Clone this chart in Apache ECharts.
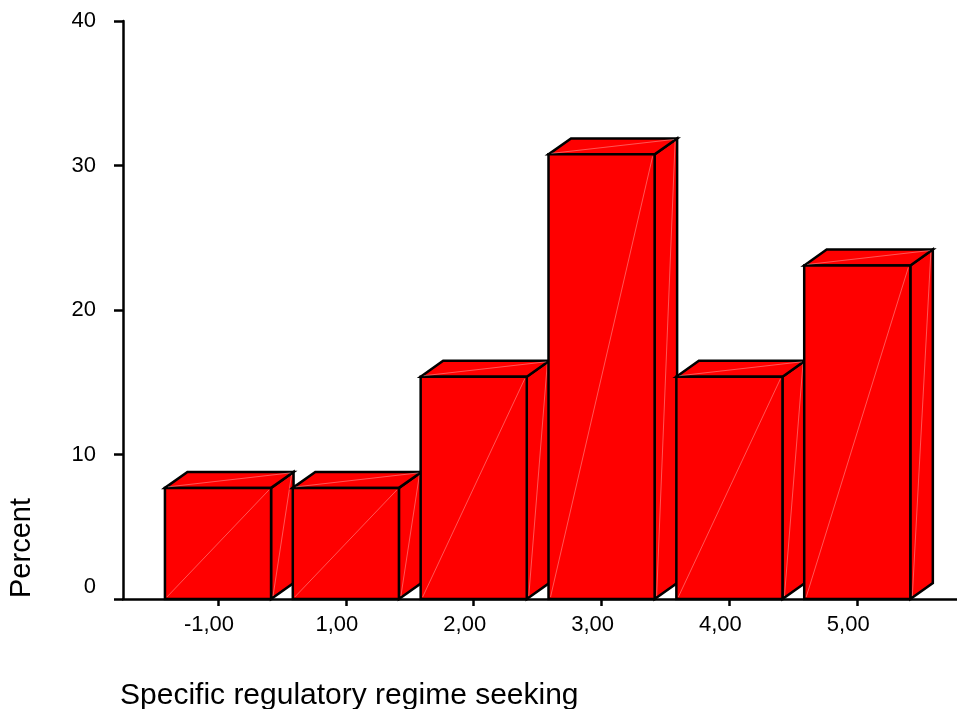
<!DOCTYPE html>
<html><head><meta charset="utf-8">
<script src="https://cdn.jsdelivr.net/npm/echarts@6/dist/echarts.min.js"></script>
<style>html,body{margin:0;padding:0;background:#fff}#c{width:957px;height:709px}</style>
</head><body><div id="c"></div>
<script>
const categories = ['-1,00', '1,00', '2,00', '3,00', '4,00', '5,00'];
const percentValues = [7.69, 7.69, 15.38, 30.77, 15.38, 23.08];
const yTickValues = [0, 10, 20, 30, 40];
const xTitle = 'Specific regulatory regime seeking';
const yTitle = 'Percent';

const FONT = '"Liberation Sans", Arial, sans-serif';
const chart = echarts.init(document.getElementById('c'), null, {renderer: 'canvas'});
const seriesData = percentValues.map((v, i) => [i, v]);
const catIdx = categories.map((c, i) => i);

function renderBar(params, api) {
  const i = api.value(0), v = api.value(1);
  const unit = api.size([1, 1]);
  const halfW = 0.415 * unit[0];
  const dx = 0.176 * unit[0];
  const dy = dx * 0.71;
  const top = api.coord([i, v]);
  const base = api.coord([i, 0]);
  const xl = top[0] - halfW, xr = top[0] + halfW, yt = top[1], yb = base[1];
  const faceStyle = {fill: '#ff0000', stroke: '#000', lineWidth: 2.5, lineJoin: 'miter'};
  const diagStyle = {stroke: 'rgba(255,190,190,0.45)', lineWidth: 1, fill: null};
  return {
    type: 'group',
    children: [
      {type: 'polygon', shape: {points: [[xr, yb], [xr + dx, yb - dy], [xr + dx, yt - dy], [xr, yt]]}, style: faceStyle},
      {type: 'polygon', shape: {points: [[xl, yt], [xl + dx, yt - dy], [xr + dx, yt - dy], [xr, yt]]}, style: faceStyle},
      {type: 'polygon', shape: {points: [[xl, yb], [xr, yb], [xr, yt], [xl, yt]]}, style: faceStyle},
      {type: 'line', shape: {x1: xl + 2, y1: yb - 2, x2: xr - 2, y2: yt + 2}, style: diagStyle},
      {type: 'line', shape: {x1: xl + 3, y1: yt - 1, x2: xr + dx - 3, y2: yt - dy + 1}, style: diagStyle},
      {type: 'line', shape: {x1: xr + 2, y1: yb - 3, x2: xr + dx - 2, y2: yt - dy + 3}, style: diagStyle}
    ]
  };
}

chart.setOption({
  animation: false,
  backgroundColor: '#fff',
  grid: {left: 123, right: 0, top: 21, bottom: 110, containLabel: false},
  xAxis: {
    type: 'value', min: -0.743, max: 5.78,
    splitLine: {show: false},
    axisLine: {show: true, onZero: false, lineStyle: {color: '#000', width: 2.5}},
    axisTick: {show: true, customValues: catIdx, length: 7, lineStyle: {color: '#000', width: 2.5}},
    axisLabel: {customValues: catIdx, formatter: v => categories[Math.round(v)], margin: 15,
      color: '#000', fontSize: 22, fontFamily: FONT, padding: [0, 18, 0, 0]}
  },
  yAxis: {
    type: 'value', min: 0, max: 40, interval: 10,
    splitLine: {show: false},
    axisLine: {show: true, onZero: false, lineStyle: {color: '#000', width: 2.5}},
    axisTick: {show: true, length: 9, lineStyle: {color: '#000', width: 2.5}},
    axisLabel: {
      margin: 27, color: '#000', fontSize: 22, fontFamily: FONT,
      formatter: v => (yTickValues.indexOf(v) === 0 ? '{z|' + v + '}' : String(v)),
      rich: {z: {fontSize: 22, fontFamily: FONT, color: '#000', padding: [0, 0, 24, 0]}}
    }
  },
  series: [{
    type: 'custom',
    renderItem: renderBar,
    data: seriesData,
    encode: {x: 0, y: 1},
    clip: false
  }],
  graphic: [
    {type: 'text', x: 120, y: 695.5,
      style: {text: xTitle, fontSize: 30, fontFamily: FONT, fill: '#000', align: 'left', verticalAlign: 'middle'}},
    {type: 'text', x: 22, y: 598, rotation: Math.PI / 2,
      style: {text: yTitle, fontSize: 29, fontFamily: FONT, fill: '#000', align: 'left', verticalAlign: 'middle'}}
  ]
});
</script></body></html>
